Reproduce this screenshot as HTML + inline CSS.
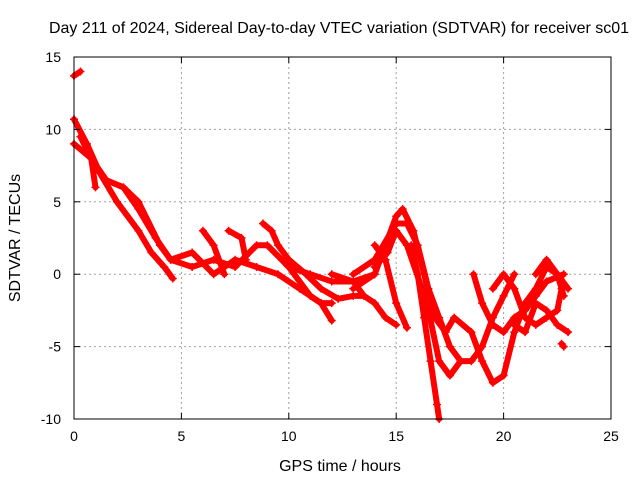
<!DOCTYPE html>
<html><head><meta charset="utf-8"><style>
body{margin:0;background:#fff}
svg text{font-family:"Liberation Sans",sans-serif;font-size:14px;fill:#000}
svg text.big{font-size:16px}
</style></head><body>
<svg id="chart" width="640" height="480">
<text class="big" x="339" y="33" text-anchor="middle">Day 211 of 2024, Sidereal Day-to-day VTEC variation (SDTVAR) for receiver sc01</text>
<text class="big" x="340" y="471" text-anchor="middle">GPS time / hours</text>
<text class="big" transform="translate(20,238) rotate(-90)" text-anchor="middle">SDTVAR / TECUs</text>
<g id="grid"></g><g id="series"></g><g id="axes"></g>
</svg>
<script>
const xTicks=[0,5,10,15,20,25];
const yTicks=[-10,-5,0,5,10,15];
const traceA=[[0,10.7],[0.6,9],[1.2,7],[2,5],[3,3],[3.6,1.5],[4.2,0.5],[4.6,-0.3]];
const traceB=[[0,9],[0.8,8],[1.5,6.5],[2.3,6],[3,4.5],[3.8,2.5],[4.5,1],[5.5,1.5],[6.5,0],[7.5,1],[8.5,0.5],[9.5,0],[10.5,-1],[11.5,-2],[12,-3.2]];
const traceC=[[0.3,9.5],[0.8,8],[1,6]];
const traceD=[[2.3,6],[3,5],[4,2],[4.5,1],[5.5,0.5],[6.5,1],[7.5,0.5],[8.5,2],[9,2],[10,0.5],[11,0],[12,-0.5],[13,-0.5],[14,0]];
const traceE=[[6,3],[6.5,2],[7,0]];
const traceF=[[7.2,3],[7.8,2.5],[8,1]];
const traceG=[[8.8,3.5],[9.2,3],[9.5,2],[10,1],[10.8,0],[11.5,-1],[12.3,-1.7],[13,-1.5],[13.5,-1.5]];
const traceH=[[10,0.5],[11,-1.5],[11.5,-2],[12,-2]];
const traceI=[[12,0],[13,-0.5],[13.5,-1.5],[14,-2],[14.5,-3],[15,-3.5]];
const traceJ=[[13,-1],[14,0],[14.5,2],[15,4],[15.3,4.5],[15.8,3],[16.3,0],[16.8,-3],[17.3,-4],[17.7,-3],[18.5,-4],[19,-6],[19.5,-7.5],[20,-7],[20.5,-4],[21,-2],[21.5,-1],[22,0.5],[22.5,0],[23,-1]];
const traceK=[[13,0],[14,1],[15,3.5],[15.5,3.5],[16,2],[16.5,-1],[17,-3],[17.5,-5],[18,-6],[18.5,-6],[19,-5],[19.5,-3],[20,-1.5],[20.5,0]];
const traceL=[[14,0.5],[14.6,1.5],[15,3],[15.5,2],[16.2,-1],[16.5,-2.5],[17,-6],[17.5,-7],[18,-6]];
const traceM=[[15.7,2],[16,0],[16.3,-3],[16.6,-6],[16.9,-9],[17,-10]];
const traceN=[[14,2],[14.5,1],[15,-2],[15.5,-3.7]];
const traceO=[[18.6,0],[19,-2],[19.5,-3.5],[20,-4],[20.5,-3],[21,-2.5],[21.5,-1.5],[22,-0.5],[22.8,0]];
const traceP=[[19.5,-1],[20,0],[20.5,-1],[21,-3],[21.5,-3.5],[22,-3],[22.5,-2.5],[22.7,-1]];
const traceQ=[[20.5,-3.5],[21,-4],[21.5,-2],[22,-2.5],[22.5,-3.5],[23,-4]];
const traceR=[[21.5,0],[22,1],[22.5,0],[22.8,-1.5]];
const traceS=[[0,13.7],[0.3,14]];
const traceT=[[22.7,-4.8],[22.8,-5]];
const traces=[traceA,traceB,traceC,traceD,traceE,traceF,traceG,traceH,traceI,traceJ,traceK,traceL,traceM,traceN,traceO,traceP,traceQ,traceR,traceS,traceT];

const X0=74,X1=611,Y0=419,Y1=57;
const xs=t=>X0+(t-0)/25*(X1-X0);
const ys=v=>Y0-(v+10)/25*(Y0-Y1);
const NS="http://www.w3.org/2000/svg";
function mk(tag,attrs,parent){const e=document.createElementNS(NS,tag);for(const k in attrs)e.setAttribute(k,attrs[k]);parent.appendChild(e);return e;}
const grid=document.getElementById('grid'),axes=document.getElementById('axes'),ser=document.getElementById('series');
xTicks.forEach(t=>{
  if(t>0&&t<25){const g=mk('line',{x1:xs(t),x2:xs(t),y1:Y1,y2:Y0,stroke:'#a0a0a0','stroke-dasharray':'2,3'},grid);
  
  }
  const l=mk('text',{x:xs(t),y:Y0+22,'text-anchor':'middle'},axes);l.textContent=t;
  
  
  mk('line',{x1:xs(t),x2:xs(t),y1:Y0,y2:Y0-6,stroke:'#000'},axes);
  mk('line',{x1:xs(t),x2:xs(t),y1:Y1,y2:Y1+6,stroke:'#000'},axes);
});
yTicks.forEach(v=>{
  if(v>-10&&v<15){const g=mk('line',{x1:X0,x2:X1,y1:ys(v),y2:ys(v),stroke:'#a0a0a0','stroke-dasharray':'2,3'},grid);
  
  }
  const l=mk('text',{x:X0-13,y:ys(v)+5,'text-anchor':'end'},axes);l.textContent=v;
  
  
  mk('line',{x1:X0,x2:X0+6,y1:ys(v),y2:ys(v),stroke:'#000'},axes);
  mk('line',{x1:X1,x2:X1-6,y1:ys(v),y2:ys(v),stroke:'#000'},axes);
});
const fr=mk('rect',{x:X0,y:Y1,width:X1-X0,height:Y0-Y1,fill:'none',stroke:'#000'},axes);


traces.forEach((tr,i)=>{
  const p=mk('polyline',{points:tr.map(d=>xs(d[0])+','+ys(d[1])).join(' '),fill:'none',stroke:'#ff0000','stroke-width':6,'stroke-linejoin':'round','stroke-linecap':'round'},ser);
  
  
  tr.forEach(d=>{
    const m=mk('path',{d:`M${xs(d[0])-4},${ys(d[1])}h8M${xs(d[0])},${ys(d[1])-4}v8`,stroke:'#ff0000','stroke-width':1.5},ser);
    
    
  });
});
</script>
</body></html>
